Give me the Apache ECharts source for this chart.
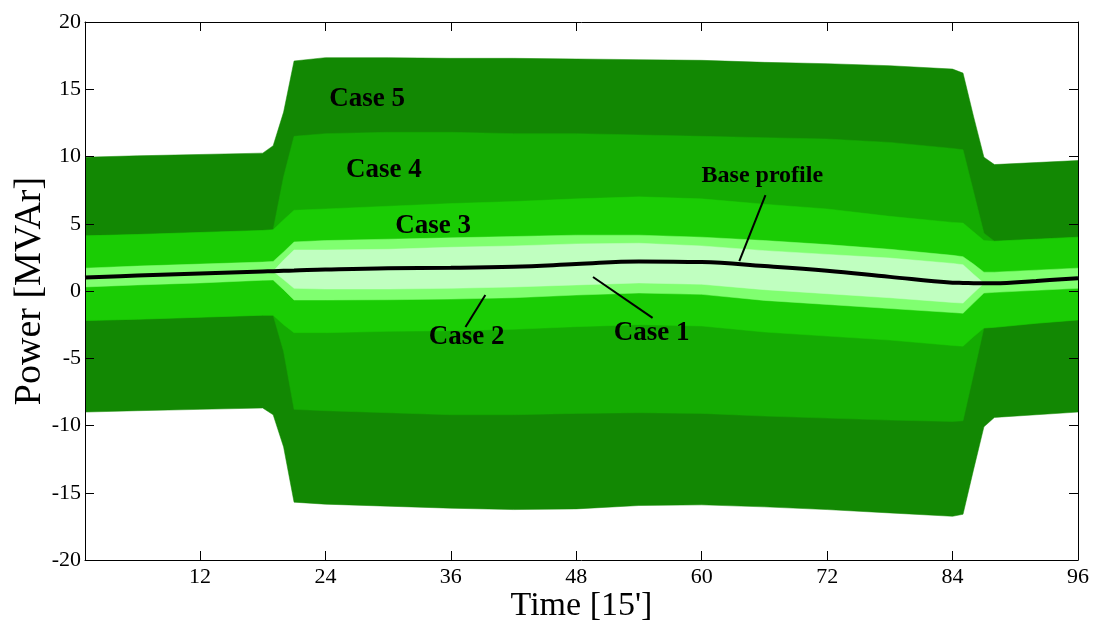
<!DOCTYPE html>
<html><head><meta charset="utf-8">
<script src="https://cdn.jsdelivr.net/npm/echarts@6/dist/echarts.min.js"></script>
<style>html,body{margin:0;padding:0;background:#fff}#c{width:1097px;height:626px}</style>
</head><body><div id="c"></div>
<script>
// Time steps (15-minute intervals)
const T = [1, 6, 12, 18, 19, 20, 21, 24, 30, 36, 42, 48, 54, 60, 66, 72, 78, 84, 85, 86, 87, 88, 92, 96];
// Base profile [MVAr]
const base = [1.0, 1.15, 1.3, 1.45, 1.47, 1.5, 1.52, 1.6, 1.7, 1.72, 1.8, 2.0, 2.2, 2.15, 1.85, 1.5, 1.05, 0.62, 0.6, 0.58, 0.57, 0.57, 0.75, 0.95];
// Case bands: upper / lower limits [MVAr]
const c1u = [1.0, 1.15, 1.3, 1.45, 1.47, 2.3, 3.05, 3.05, 3.1, 3.25, 3.35, 3.5, 3.55, 3.35, 3.0, 2.72, 2.45, 2.05, 1.95, 1.25, 0.57, 0.57, 0.75, 0.95];
const c1l = [1.0, 1.15, 1.3, 1.45, 1.47, 0.85, 0.2, 0.15, 0.15, 0.2, 0.3, 0.45, 0.6, 0.5, 0.1, -0.2, -0.5, -0.85, -0.9, -0.15, 0.57, 0.57, 0.75, 0.95];
const c2u = [1.7, 1.85, 2.0, 2.15, 2.2, 2.9, 3.65, 3.75, 3.85, 3.95, 4.05, 4.15, 4.15, 4.0, 3.75, 3.45, 3.1, 2.65, 2.55, 2.0, 1.4, 1.4, 1.55, 1.7];
const c2l = [0.3, 0.45, 0.6, 0.8, 0.82, 0.1, -0.67, -0.67, -0.65, -0.6, -0.5, -0.3, -0.15, -0.25, -0.7, -1.0, -1.3, -1.6, -1.65, -0.9, -0.15, -0.1, 0.05, 0.2];
const c3u = [4.1, 4.2, 4.35, 4.5, 4.55, 5.3, 6.0, 6.1, 6.3, 6.5, 6.65, 6.85, 7.0, 6.85, 6.45, 6.1, 5.55, 5.1, 5.05, 4.4, 3.75, 3.7, 3.85, 4.0];
const c3l = [-2.2, -2.1, -1.95, -1.8, -1.8, -2.5, -3.1, -3.1, -3.0, -2.95, -2.85, -2.65, -2.5, -2.6, -3.05, -3.35, -3.65, -4.05, -4.1, -3.4, -2.75, -2.7, -2.4, -2.15];
const c4u = [4.1, 4.2, 4.35, 4.5, 4.55, 8.5, 11.5, 11.7, 11.8, 11.8, 11.7, 11.7, 11.6, 11.5, 11.4, 11.3, 11.05, 10.6, 10.5, 7.4, 4.3, 3.7, 3.85, 4.0];
const c4l = [-2.2, -2.1, -1.95, -1.8, -1.8, -4.5, -8.8, -8.9, -9.05, -9.2, -9.2, -9.1, -9.05, -9.1, -9.3, -9.45, -9.6, -9.7, -9.65, -6.2, -2.75, -2.7, -2.4, -2.15];
const c5u = [9.95, 10.05, 10.15, 10.25, 10.8, 13.3, 17.1, 17.35, 17.35, 17.3, 17.3, 17.25, 17.2, 17.15, 17.0, 16.9, 16.75, 16.5, 16.2, 13.0, 9.95, 9.4, 9.55, 9.7];
const c5l = [-9.0, -8.9, -8.8, -8.7, -9.2, -11.6, -15.7, -15.85, -16.0, -16.15, -16.25, -16.2, -15.95, -15.9, -16.05, -16.25, -16.5, -16.75, -16.6, -13.3, -10.1, -9.4, -9.2, -9.0];
// Axis ticks
const xTicks = [12, 24, 36, 48, 60, 72, 84, 96];
// Annotations: text, anchor (time, value), leader line endpoints
const annText = ['Case 5', 'Case 4', 'Case 3', 'Case 2', 'Case 1', 'Base profile'];
const annT = [28.0, 29.6, 34.3, 37.5, 55.2, 65.8];
const annV = [14.26, 8.99, 4.83, -3.42, -3.12, 8.54];
const leaders = [
  [[39.3, -0.3], [37.4, -2.67]],
  [[49.6, 1.04], [55.3, -2.0]],
  [[66.1, 7.13], [63.6, 2.23]]
];

const FONT = 'Liberation Serif';
const bands = [
  {upper: c5u, lower: c5l, color: '#128803'},
  {upper: c4u, lower: c4l, color: '#14AB02'},
  {upper: c3u, lower: c3l, color: '#1ACC04'},
  {upper: c2u, lower: c2l, color: '#80FF70'},
  {upper: c1u, lower: c1l, color: '#C0FFC0'}
];
const series = bands.map((b, i) => ({
  type: 'custom', silent: true, z: 2 + i, clip: true,
  data: T.map((t, j) => [t, b.lower[j], b.upper[j]]),
  encode: {x: 0, y: [1, 2]},
  renderItem: (params, api) => {
    if (params.dataIndex !== 0) return null;
    const pts = [];
    for (let j = 0; j < T.length; j++) pts.push(api.coord([T[j], b.upper[j]]));
    for (let j = T.length - 1; j >= 0; j--) pts.push(api.coord([T[j], b.lower[j]]));
    return {type: 'polygon', shape: {points: pts}, style: {fill: b.color, stroke: b.color, lineWidth: 0.5}};
  }
}));
series.push({
  type: 'line', data: T.map((t, j) => [t, base[j]]), smooth: 0.4,
  symbol: 'none', lineStyle: {color: '#000', width: 4}, z: 20, silent: true
});
series.push({
  type: 'lines', coordinateSystem: 'cartesian2d', silent: true, z: 21,
  data: leaders.map(l => ({coords: l})),
  lineStyle: {color: '#000', width: 2, opacity: 1}
});
series.push({
  type: 'scatter', symbolSize: 0, silent: true, z: 22,
  itemStyle: {opacity: 1},
  data: annText.map((s, i) => ({value: [annT[i], annV[i], s],
    label: {fontSize: s === 'Base profile' ? 24 : 27}})),
  label: {show: true, position: 'inside', formatter: p => p.value[2],
    fontFamily: FONT, fontWeight: 'bold', color: '#000', opacity: 1}
});

const axLine = {show: true, onZero: false, lineStyle: {color: '#000', width: 1}};
const tickStyle = {color: '#000', width: 1};
const labelStyle = {color: '#000', fontFamily: FONT, fontSize: 22};
const option = {
  animation: false,
  backgroundColor: '#fff',
  grid: {left: 85, right: 19, top: 22, bottom: 66, outerBoundsMode: 'none', containLabel: false},
  xAxis: [{
    type: 'value', min: 1, max: 96, position: 'bottom', z: 10,
    axisLine: axLine,
    axisTick: {show: true, inside: true, length: 9, customValues: xTicks, lineStyle: tickStyle},
    axisLabel: Object.assign({customValues: xTicks, margin: 6}, labelStyle),
    splitLine: {show: false},
    name: "Time [15']", nameLocation: 'middle', nameGap: 29, nameMoveOverlap: false,
    nameTextStyle: {color: '#000', fontFamily: FONT, fontSize: 34}
  }, {
    type: 'value', min: 1, max: 96, position: 'top', z: 10,
    axisLine: axLine,
    axisTick: {show: true, inside: true, length: 9, customValues: xTicks, lineStyle: tickStyle},
    axisLabel: {show: false}, splitLine: {show: false}
  }],
  yAxis: [{
    type: 'value', min: -20, max: 20, interval: 5, position: 'left', z: 10,
    axisLine: axLine,
    axisTick: {show: true, inside: true, length: 9, lineStyle: tickStyle},
    axisLabel: Object.assign({margin: 4}, labelStyle),
    splitLine: {show: false},
    name: 'Power [MVAr]', nameLocation: 'middle', nameGap: 36, nameMoveOverlap: false,
    nameTextStyle: {color: '#000', fontFamily: FONT, fontSize: 38}
  }, {
    type: 'value', min: -20, max: 20, interval: 5, position: 'right', z: 10,
    axisLine: axLine,
    axisTick: {show: true, inside: true, length: 9, lineStyle: tickStyle},
    axisLabel: {show: false}, splitLine: {show: false}
  }],
  series: series
};
const chart = echarts.init(document.getElementById('c'), null, {renderer: 'canvas'});
chart.setOption(option);
</script></body></html>
